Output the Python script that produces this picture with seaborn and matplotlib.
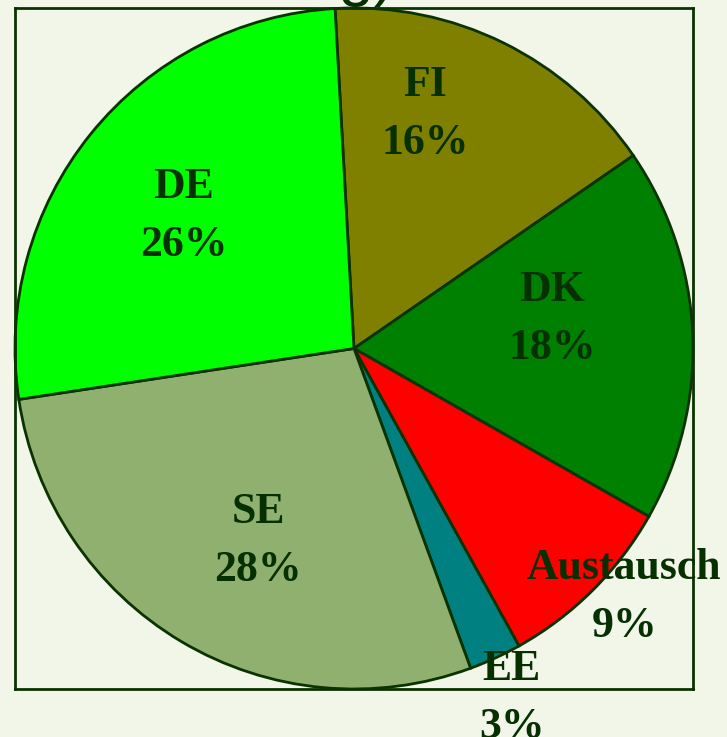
import matplotlib
matplotlib.use("Agg")
import matplotlib.pyplot as plt
import seaborn as sns

# Data (clockwise from the top)
categories = ["FI", "DK", "Austausch", "EE", "SE", "DE"]
values = [16.3, 17.8, 8.7, 2.5, 28.2, 26.5]
pct_labels = ["16%", "18%", "9%", "3%", "28%", "26%"]
colors = ["#808000", "#008000", "#FF0000", "#008080", "#8FB06E", "#00FF00"]
# label anchor positions (in pie radius units, relative to the centre)
label_x = [0.209, 0.585, 0.797, 0.465, -0.282, -0.503]
label_y = [0.688, 0.088, -0.730, -1.025, -0.565, 0.388]

bg = "#F1F6E9"
dark = "#063000"

sns.set_theme(style="white", rc={"figure.facecolor": bg, "axes.facecolor": bg})

fig = plt.figure(figsize=(7.27, 7.37), dpi=100)
ax = fig.add_axes([15 / 727, 1 - 689 / 737, 678 / 727, 681 / 737])
ax.set_facecolor(bg)

wedges, _ = ax.pie(values, colors=colors, startangle=93.2, counterclock=False,
                   radius=1.0, center=(0, 0), frame=True,
                   wedgeprops=dict(edgecolor="#0A3300", linewidth=2.0))
ax.set_xlim(-1, 1)
ax.set_ylim(-1, 1)
ax.set_aspect("auto")
ax.set_frame_on(True)
for s in ax.spines.values():
    s.set_visible(True)
    s.set_color("#0A3300")
    s.set_linewidth(2.0)
ax.set_xticks([])
ax.set_yticks([])

for cat, pct, x, y in zip(categories, pct_labels, label_x, label_y):
    ax.text(x, y, f"{cat}\n{pct}", ha="center", va="center", fontsize=31.5,
            fontweight="bold", family=["Liberation Serif", "DejaVu Serif"],
            color=dark, linespacing=1.58, clip_on=False, zorder=5)

# Title, clipped by the top of the image
fig.text(396 / 727, 1.0 + 6 / 737, "Verteilung)", ha="right", va="baseline",
         fontsize=46, color=dark, family="Liberation Sans")

fig.savefig("out.png", dpi=100, facecolor=bg)
